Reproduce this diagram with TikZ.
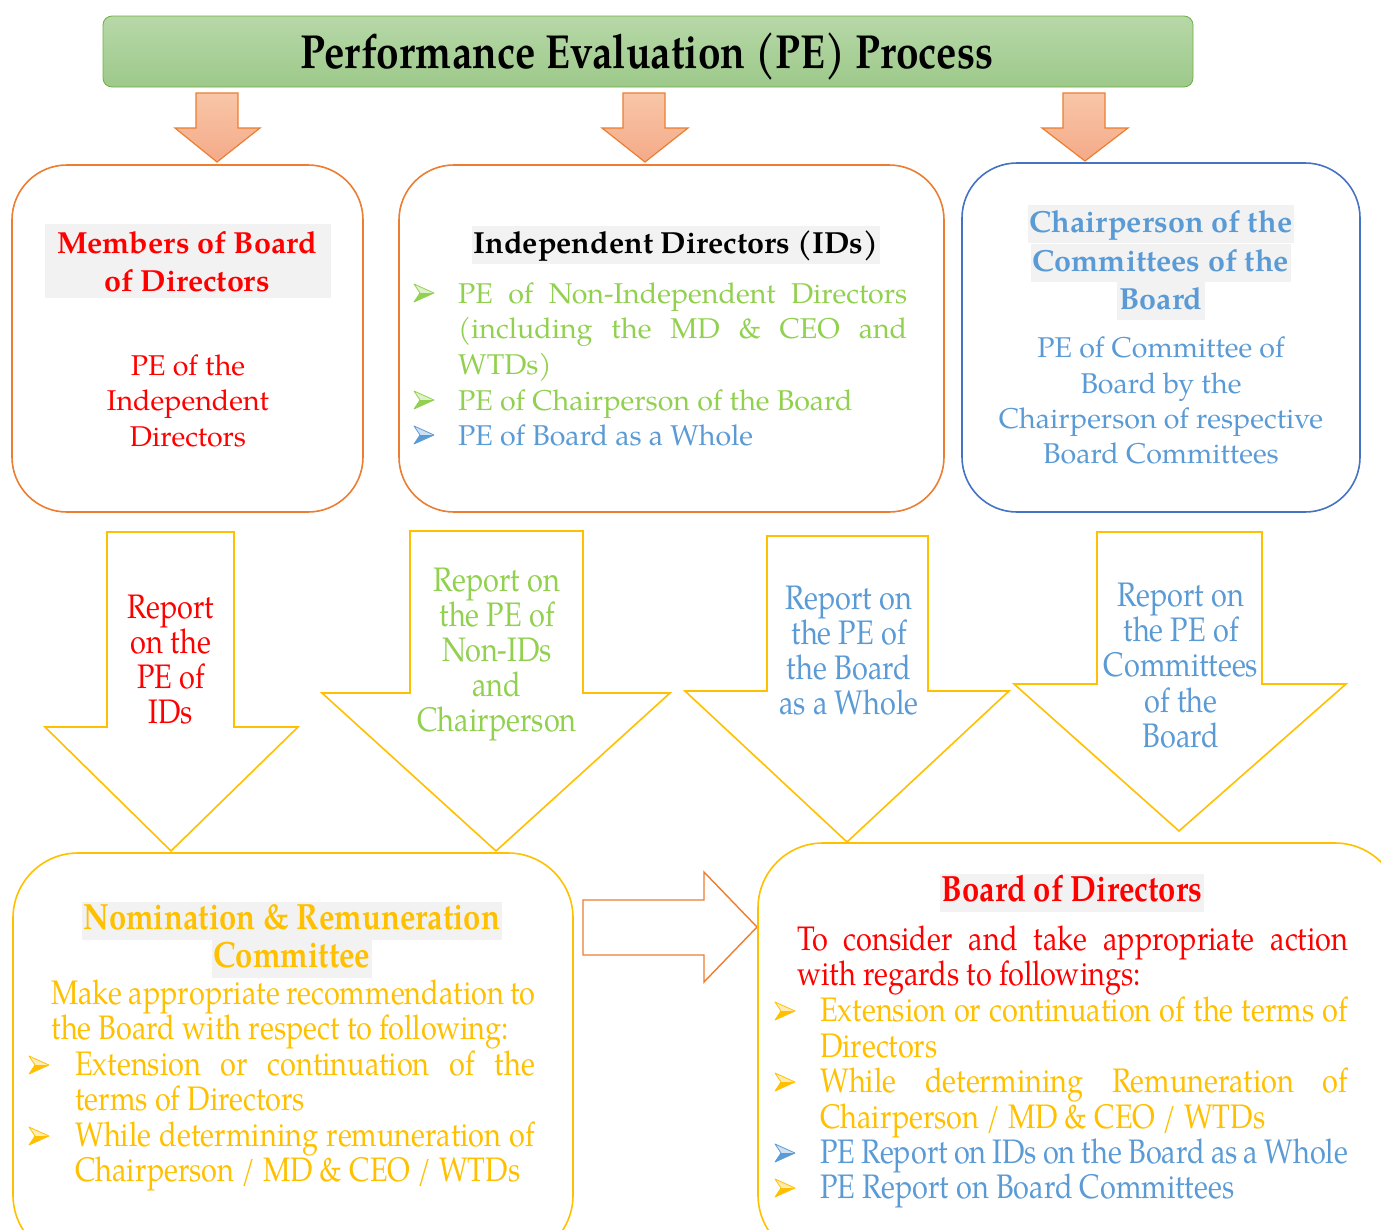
\documentclass[tikz,border=0pt]{standalone}
\usepackage{fontspec}
\setmainfont{texgyrepagella}[Extension=.otf,UprightFont=*-regular,BoldFont=*-bold,ItalicFont=*-italic,BoldItalicFont=*-bolditalic]
\newfontfamily\tallf{texgyrepagella}[Extension=.otf,UprightFont=*-regular,BoldFont=*-bold,FakeStretch=0.85]
\definecolor{orng}{HTML}{ED7D31}
\definecolor{orngtop}{HTML}{F8C6A8}
\definecolor{orngbot}{HTML}{F4AA88}
\definecolor{grnbord}{HTML}{70AD47}
\definecolor{grntop}{HTML}{B7D8A8}
\definecolor{grnbot}{HTML}{9DC98A}
\definecolor{bluebord}{HTML}{4472C4}
\definecolor{yel}{HTML}{FFC000}
\definecolor{redt}{HTML}{FF0000}
\definecolor{grnt}{HTML}{92D050}
\definecolor{bluet}{HTML}{5B9BD5}
\definecolor{hlgray}{HTML}{F2F2F2}
\newcommand\bul[3]{%
  \fill[#3!30] (#1,#2-19) -- (#1+20,#2-10) -- (#1+6,#2-10) -- cycle;
  \fill[#3] (#1,#2-1) -- (#1+20,#2-10) -- (#1+6,#2-10) -- cycle;
  \draw[#3, line width=0.8pt, line join=round] (#1,#2-19) -- (#1+20,#2-10) -- (#1,#2-1) -- (#1+6,#2-10) -- cycle;}
\begin{document}
\begin{tikzpicture}[x=1pt,y=-1pt,
  box/.style={line width=1.6pt, rounded corners=55pt},
  lbox/.style={line width=1.6pt, rounded corners=65pt, draw=yel},
  topar/.style={draw=orng, line width=1.2pt, top color=orngtop, bottom color=orngbot},
  yar/.style={draw=yel, line width=1.6pt, fill=white},
  bodyt/.style={anchor=base, inner sep=0pt, font=\fontsize{28.6}{35}\selectfont},
  bodyl/.style={bodyt, anchor=base west},
  headt/.style={anchor=base, inner sep=0pt, inner xsep=2pt, font=\fontsize{30.5}{38}\selectfont\bfseries},
  tallt/.style={anchor=base, inner sep=0pt, font=\tallf\fontsize{34}{35}\selectfont},
  talll/.style={tallt, anchor=base west},
  tallh/.style={anchor=base, inner sep=0pt, inner xsep=2pt, font=\tallf\fontsize{36.5}{38}\selectfont\bfseries}]
\useasboundingbox (0,0) rectangle (1381,1229);
\clip (0,0) rectangle (1381,1229);

% title
\draw[draw=grnbord, line width=0.8pt, top color=grntop, bottom color=grnbot, rounded corners=9pt] (103,16) rectangle (1193,87);
\node[anchor=base, inner sep=0pt, font=\tallf\fontsize{47.8}{50}\selectfont\bfseries] (title) at (647,68) {Performance Evaluation (PE) Process};

% top arrows
\draw[topar] (196,93) -- (238,93) -- (238,128) -- (260,128) -- (217,162) -- (175,128) -- (196,128) -- cycle;
\draw[topar] (623,93) -- (665,93) -- (665,128) -- (688,128) -- (645,162) -- (602,128) -- (623,128) -- cycle;
\draw[topar] (1063,93) -- (1105,93) -- (1105,128) -- (1128,128) -- (1085,161) -- (1042,128) -- (1063,128) -- cycle;

% box 1
\draw[box, draw=orng] (12,165) rectangle (363,512);
\fill[hlgray] (45,224) rectangle (331,298);
\node[headt, text=redt] (b1h1) at (187,253) {Members of Board};
\node[headt, text=redt] (b1h2) at (187,291) {of Directors};
\node[bodyt, text=redt] (b1t1) at (188,375) {PE of the};
\node[bodyt, text=redt] (b1t2) at (188,410) {Independent};
\node[bodyt, text=redt] (b1t3) at (188,446) {Directors};

% box 2
\draw[box, draw=orng] (399,165) rectangle (944,512);
\node[headt, fill=hlgray] (b2h) at (676,253) {\strut Independent Directors (IDs)};
\bul{414}{303}{grnt}
\bul{414}{410}{grnt}
\bul{414}{445}{bluet}
\node[bodyl, text=grnt] (b2l1) at (458,303) {\makebox[449pt][s]{PE of Non-Independent Directors}};
\node[bodyl, text=grnt] (b2l2) at (458,338) {\makebox[449pt][s]{(including the MD \& CEO and}};
\node[bodyl, text=grnt] (b2l3) at (458,374) {WTDs)};
\node[bodyl, text=grnt] (b2l4) at (458,410) {PE of Chairperson of the Board};
\node[bodyl, text=bluet] (b2l5) at (458,445) {PE of Board as a Whole};

% box 3
\draw[box, draw=bluebord] (962,163) rectangle (1360,512);
\node[headt, fill=hlgray, text=bluet] (b3h1) at (1161,232) {\strut Chairperson of the};
\node[headt, fill=hlgray, text=bluet] (b3h2) at (1161,271) {\strut Committees of the};
\node[headt, fill=hlgray, text=bluet] (b3h3) at (1161,309) {\strut Board};
\node[bodyt, text=bluet] (b3t1) at (1161,357) {PE of Committee of};
\node[bodyt, text=bluet] (b3t2) at (1161,393) {Board by the};
\node[bodyt, text=bluet] (b3t3) at (1161,428) {Chairperson of respective};
\node[bodyt, text=bluet] (b3t4) at (1161,463) {Board Committees};

% yellow block arrows
\draw[yar] (107,532) -- (234,532) -- (234,727) -- (298,727) -- (171,851) -- (45,727) -- (107,727) -- cycle;
\draw[yar] (410,531) -- (583,531) -- (583,693) -- (670,693) -- (496,851) -- (322,693) -- (410,693) -- cycle;
\draw[yar] (767,536) -- (928,536) -- (928,691) -- (1009,691) -- (847,842) -- (685,691) -- (767,691) -- cycle;
\draw[yar] (1097,532) -- (1262,532) -- (1262,684) -- (1346,684) -- (1179,831) -- (1014,684) -- (1097,684) -- cycle;

\node[tallt, text=redt] (a1t1) at (171,618) {Report};
\node[tallt, text=redt] (a1t2) at (171,653) {on the};
\node[tallt, text=redt] (a1t3) at (171,688) {PE of};
\node[tallt, text=redt] (a1t4) at (171,723) {IDs};

\node[tallt, text=grnt] (a2t1) at (497,591) {Report on};
\node[tallt, text=grnt] (a2t2) at (497,626) {the PE of};
\node[tallt, text=grnt] (a2t3) at (497,661) {Non-IDs};
\node[tallt, text=grnt] (a2t4) at (497,696) {and};
\node[tallt, text=grnt] (a2t5) at (497,731) {Chairperson};

\node[tallt, text=bluet] (a3t1) at (849,609) {Report on};
\node[tallt, text=bluet] (a3t2) at (849,644) {the PE of};
\node[tallt, text=bluet] (a3t3) at (849,679) {the Board};
\node[tallt, text=bluet] (a3t4) at (849,714) {as a Whole};

\node[tallt, text=bluet] (a4t1) at (1181,606) {Report on};
\node[tallt, text=bluet] (a4t2) at (1181,641) {the PE of};
\node[tallt, text=bluet] (a4t3) at (1181,676) {Committees};
\node[tallt, text=bluet] (a4t4) at (1181,712) {of the};
\node[tallt, text=bluet] (a4t5) at (1181,747) {Board};

% NRC box
\draw[lbox] (13,853) rectangle (573,1260);
\node[tallh, fill=hlgray, text=yel] (nh1) at (292,929) {\strut Nomination \& Remuneration};
\node[tallh, fill=hlgray, text=yel] (nh2) at (292,967) {\strut Committee};
\node[talll, text=yel] (nt1) at (51,1004) {\makebox[484pt][s]{Make appropriate recommendation to}};
\node[talll, text=yel] (nt2) at (51,1039) {the Board with respect to following:};
\bul{29}{1075}{yel}
\bul{29}{1146}{yel}
\node[talll, text=yel] (nt3) at (75,1075) {\makebox[460pt][s]{Extension or continuation of the}};
\node[talll, text=yel] (nt4) at (75,1110) {terms of Directors};
\node[talll, text=yel] (nt5) at (75,1146) {\makebox[460pt][s]{While determining remuneration of}};
\node[talll, text=yel] (nt6) at (75,1181) {Chairperson / MD \& CEO / WTDs};

% right arrow
\draw[draw=orng, line width=1.4pt, fill=white] (583,900) -- (704,900) -- (704,872) -- (757,927) -- (704,982) -- (704,955) -- (583,955) -- cycle;

% BoD box
\draw[lbox] (758,843) rectangle (1400,1260);
\node[tallh, fill=hlgray, text=redt] (bh) at (1072,901) {\strut Board of Directors};
\node[talll, text=redt] (bt1) at (797,950) {\makebox[551pt][s]{To consider and take appropriate action}};
\node[talll, text=redt] (bt2) at (797,985) {with regards to followings:};
\bul{775}{1021}{yel}
\bul{775}{1092}{yel}
\bul{775}{1163}{bluet}
\bul{775}{1198}{yel}
\node[talll, text=yel] (bt3) at (820,1021) {\makebox[528pt][s]{Extension or continuation of the terms of}};
\node[talll, text=yel] (bt4) at (820,1057) {Directors};
\node[talll, text=yel] (bt5) at (820,1092) {\makebox[528pt][s]{While determining Remuneration of}};
\node[talll, text=yel] (bt6) at (820,1128) {Chairperson / MD \& CEO / WTDs};
\node[talll, text=bluet] (bt7) at (820,1163) {\makebox[528pt][s]{PE Report on IDs on the Board as a Whole}};
\node[talll, text=bluet] (bt8) at (820,1198) {PE Report on Board Committees};
\end{tikzpicture}
\end{document}
